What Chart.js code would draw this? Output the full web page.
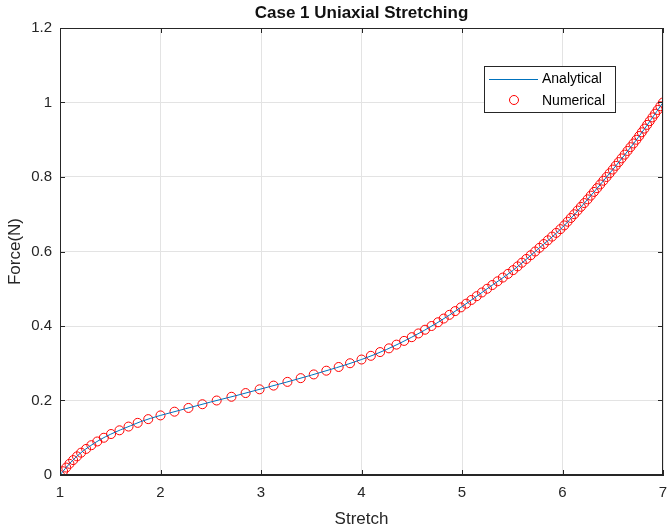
<!DOCTYPE html>
<html>
<head>
<meta charset="utf-8">
<script src="https://cdn.jsdelivr.net/npm/chart.js@4"></script>
<style>
html,body{margin:0;padding:0;background:#fff;}
#wrap{width:670px;height:531px;position:relative;}
</style>
</head>
<body>
<div id="wrap"><canvas id="c" width="670" height="531"></canvas></div>
<script>
// Analytical curve (stretch, force)
const analyticStretch = [1.0,1.1,1.2,1.3,1.4,1.5,1.6,1.7,1.8,1.9,2.0,2.25,2.5,2.75,3.0,3.25,3.5,3.75,4.0,4.25,4.5,4.75,5.0,5.25,5.5,5.75,6.0,6.25,6.5,6.75,7.0];
const analyticForce   = [0,0.032,0.058,0.078,0.095,0.109,0.121,0.132,0.143,0.152,0.160,0.178,0.196,0.213,0.231,0.249,0.268,0.288,0.310,0.337,0.370,0.408,0.452,0.500,0.548,0.605,0.665,0.740,0.820,0.905,1.000];

// Numerical points (stretch, force)
const numericForce = [0,0.01,0.02,0.03,0.04,0.05,0.06,0.07,0.08,0.09,0.10,0.11,0.12,0.13,0.14,0.15,0.16,0.17,0.18,0.19,0.20,0.21,0.22,0.23,0.24,0.25,0.26,0.27,0.28,0.29,0.30,0.31,0.32,0.33,0.34,0.35,0.36,0.37,0.38,0.39,0.40,0.41,0.42,0.43,0.44,0.45,0.46,0.47,0.48,0.49,0.50,0.51,0.52,0.53,0.54,0.55,0.56,0.57,0.58,0.59,0.60,0.61,0.62,0.63,0.64,0.65,0.66,0.67,0.68,0.69,0.70,0.71,0.72,0.73,0.74,0.75,0.76,0.77,0.78,0.79,0.80,0.81,0.82,0.83,0.84,0.85,0.86,0.87,0.88,0.89,0.90,0.91,0.92,0.93,0.94,0.95,0.96,0.97,0.98,0.99,1.00];
const numericStretch = [1.000,1.031,1.062,1.094,1.131,1.169,1.210,1.260,1.312,1.371,1.436,1.508,1.592,1.682,1.773,1.878,2.000,2.139,2.278,2.417,2.559,2.706,2.847,2.986,3.125,3.263,3.395,3.525,3.650,3.773,3.886,4.000,4.093,4.185,4.273,4.348,4.424,4.500,4.566,4.632,4.697,4.761,4.818,4.875,4.932,4.989,5.042,5.094,5.146,5.198,5.250,5.302,5.354,5.406,5.458,5.509,5.553,5.596,5.640,5.684,5.728,5.771,5.813,5.854,5.896,5.938,5.979,6.017,6.050,6.083,6.117,6.150,6.183,6.217,6.250,6.281,6.313,6.344,6.375,6.406,6.438,6.469,6.500,6.529,6.559,6.588,6.618,6.647,6.676,6.706,6.735,6.763,6.789,6.816,6.842,6.868,6.895,6.921,6.947,6.974,7.000];

const xTicks = [1,2,3,4,5,6,7];
const yTicks = [0,0.2,0.4,0.6,0.8,1,1.2];
const titleText = 'Case 1 Uniaxial Stretching';
const xTitle = 'Stretch';
const yTitle = 'Force(N)';
const seriesNames = ['Analytical','Numerical'];

const FONT = '"Liberation Sans", Arial, Helvetica, sans-serif';
const TXT = '#262626';

const extras = {
  id: 'extras',
  afterDraw(chart) {
    const {ctx, chartArea: a, scales} = chart;
    const xs = scales.x, ys = scales.y;
    ctx.save();
    // box
    ctx.strokeStyle = TXT; ctx.lineWidth = 1;
    ctx.strokeRect(a.left + 0.5, a.top + 0.5, a.right - a.left - 1, a.bottom - a.top - 1);
    // inner ticks
    ctx.beginPath();
    xTicks.forEach(v => {
      const px = Math.round(xs.getPixelForValue(v)) + 0.5;
      ctx.moveTo(px, a.bottom); ctx.lineTo(px, a.bottom - 5);
      ctx.moveTo(px, a.top); ctx.lineTo(px, a.top + 5);
    });
    yTicks.forEach(v => {
      const py = Math.round(ys.getPixelForValue(v)) + 0.5;
      ctx.moveTo(a.left, py); ctx.lineTo(a.left + 5, py);
      ctx.moveTo(a.right, py); ctx.lineTo(a.right - 5, py);
    });
    ctx.stroke();
    // title
    ctx.fillStyle = '#111';
    ctx.font = 'bold 17px ' + FONT;
    ctx.textAlign = 'center'; ctx.textBaseline = 'alphabetic';
    ctx.fillText(titleText, (a.left + a.right) / 2, 18);
    // axis titles
    ctx.fillStyle = TXT;
    ctx.textBaseline = 'middle';
    ctx.font = '17px ' + FONT;
    ctx.fillText(xTitle, (a.left + a.right) / 2, 519);
    ctx.save();
    ctx.translate(15, (a.top + a.bottom) / 2);
    ctx.rotate(-Math.PI / 2);
    ctx.fillText(yTitle, 0, 0);
    ctx.restore();
    // legend
    const lx = 484, ly = 66, lw = 131, lh = 46;
    ctx.fillStyle = '#fff';
    ctx.fillRect(lx, ly, lw, lh);
    ctx.strokeStyle = TXT; ctx.lineWidth = 1;
    ctx.strokeRect(lx + 0.5, ly + 0.5, lw, lh);
    const d0 = chart.data.datasets[0], d1 = chart.data.datasets[1];
    ctx.strokeStyle = d0.borderColor; ctx.lineWidth = d0.borderWidth;
    ctx.beginPath(); ctx.moveTo(489, 79.5); ctx.lineTo(538, 79.5); ctx.stroke();
    ctx.strokeStyle = d1.borderColor; ctx.lineWidth = d1.borderWidth;
    ctx.beginPath(); ctx.arc(514, 100, d1.pointRadius, 0, Math.PI * 2); ctx.stroke();
    ctx.fillStyle = '#000';
    ctx.font = '14px ' + FONT;
    ctx.textAlign = 'left';
    ctx.fillText(seriesNames[0], 542, 79);
    ctx.fillText(seriesNames[1], 542, 101);
    ctx.restore();
  }
};

new Chart(document.getElementById('c'), {
  type: 'scatter',
  data: {
    datasets: [
      {
        label: seriesNames[0],
        type: 'line',
        data: analyticStretch.map((x, i) => ({x, y: analyticForce[i]})),
        borderColor: '#0072BD',
        borderWidth: 1,
        pointRadius: 0,
        fill: false,
        cubicInterpolationMode: 'monotone',
        showLine: true
      },
      {
        label: seriesNames[1],
        data: numericStretch.map((x, i) => ({x, y: numericForce[i]})),
        borderColor: '#FF0000',
        backgroundColor: 'rgba(0,0,0,0)',
        borderWidth: 1,
        pointRadius: 4.5,
        pointStyle: 'circle',
        showLine: false
      }
    ]
  },
  options: {
    responsive: false,
    animation: false,
    layout: {padding: {top: 28, right: 0, left: 0, bottom: 0}},
    plugins: {legend: {display: false}, title: {display: false}, tooltip: {enabled: false}},
    scales: {
      x: {
        type: 'linear', min: 1, max: 7,
        afterFit: s => { s.height = 56; s.paddingRight = 7; s.paddingLeft = 0; },
        afterBuildTicks: s => { s.ticks = xTicks.map(v => ({value: v})); },
        ticks: {color: TXT, font: {family: FONT, size: 15}, padding: 9, callback: v => String(v)},
        grid: {color: '#e3e3e3', drawTicks: false},
        border: {display: true, color: TXT}
      },
      y: {
        type: 'linear', min: 0, max: 1.2,
        afterFit: s => { s.width = 60; s.paddingTop = 0; s.paddingBottom = 0; },
        afterBuildTicks: s => { s.ticks = yTicks.map(v => ({value: v})); },
        ticks: {color: TXT, font: {family: FONT, size: 15}, padding: 8, callback: v => String(Number(v.toFixed(1)))},
        grid: {color: '#e3e3e3', drawTicks: false},
        border: {display: true, color: TXT}
      }
    }
  },
  plugins: [extras]
});
</script>
</body>
</html>
